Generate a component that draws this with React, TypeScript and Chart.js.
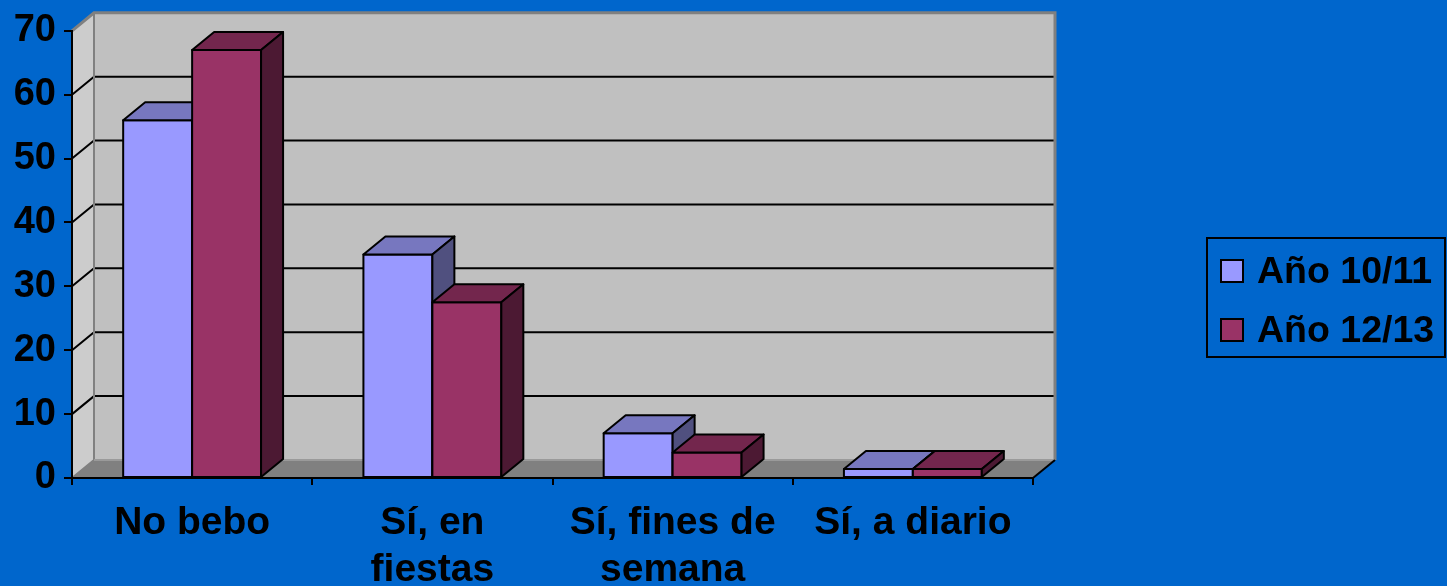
import React, { useEffect, useRef } from 'react';
import { Chart, registerables } from 'chart.js';

Chart.register(...registerables);

const categories: (string | string[])[] = ['No bebo', ['Sí, en', 'fiestas'], ['Sí, fines de', 'semana'], 'Sí, a diario'];
const seriesNames = ['Año 10/11', 'Año 12/13'];
const valuesA = [56, 35, 7, 1.4];
const valuesB = [67, 27.5, 4, 1.4];
const yMin = 0;
const yMax = 70;
const yStep = 10;

const frontColors = ['#9999FF', '#993366'];
const topColors = ['#7777BF', '#73264D'];
const sideColors = ['#50507F', '#4C1933'];

const BG = '#0066CC';
const DX = 22;
const DY = -18;
const FONT = '"Liberation Sans", Arial, sans-serif';

const threeD = {
  id: 'threeD',
  beforeDraw(chart: any) {
    const { ctx, chartArea, scales } = chart;
    const { left, right, top, bottom } = chartArea;
    ctx.save();
    ctx.fillStyle = BG;
    ctx.fillRect(0, 0, chart.width, chart.height);
    ctx.fillStyle = '#C0C0C0';
    ctx.fillRect(left + DX, top + DY, right - left, bottom - top);
    ctx.fillStyle = '#CCCCCC';
    ctx.beginPath();
    ctx.moveTo(left, bottom);
    ctx.lineTo(left, top);
    ctx.lineTo(left + DX, top + DY);
    ctx.lineTo(left + DX, bottom + DY);
    ctx.closePath();
    ctx.fill();
    ctx.fillStyle = '#808080';
    ctx.beginPath();
    ctx.moveTo(left, bottom);
    ctx.lineTo(right, bottom);
    ctx.lineTo(right + DX, bottom + DY);
    ctx.lineTo(left + DX, bottom + DY);
    ctx.closePath();
    ctx.fill();
    const y = scales.y;
    ctx.strokeStyle = '#000';
    ctx.lineWidth = 2;
    for (let v = yMin + yStep; v < yMax; v += yStep) {
      const py = y.getPixelForValue(v);
      ctx.beginPath();
      ctx.moveTo(left, py);
      ctx.lineTo(left + DX, py + DY);
      ctx.lineTo(right + DX, py + DY);
      ctx.stroke();
    }
    ctx.strokeStyle = '#808080';
    ctx.lineWidth = 3;
    ctx.beginPath();
    ctx.moveTo(left, top);
    ctx.lineTo(left + DX, top + DY);
    ctx.lineTo(right + DX, top + DY);
    ctx.lineTo(right + DX, bottom + DY);
    ctx.stroke();
    ctx.lineWidth = 2;
    ctx.beginPath();
    ctx.moveTo(left + DX, top + DY);
    ctx.lineTo(left + DX, bottom + DY);
    ctx.moveTo(left, bottom);
    ctx.lineTo(left + DX, bottom + DY);
    ctx.stroke();
    ctx.strokeStyle = '#9A9A9A';
    ctx.beginPath();
    ctx.moveTo(left + DX, bottom + DY);
    ctx.lineTo(right + DX, bottom + DY);
    ctx.stroke();
    ctx.strokeStyle = '#000';
    ctx.beginPath();
    ctx.moveTo(right, bottom);
    ctx.lineTo(right + DX, bottom + DY);
    ctx.stroke();
    ctx.restore();
  },
  afterDatasetsDraw(chart: any) {
    const { ctx } = chart;
    ctx.save();
    ctx.strokeStyle = '#000';
    ctx.lineWidth = 2;
    ctx.lineJoin = 'round';
    const n = chart.data.datasets.length;
    const nCat = chart.data.labels.length;
    for (let c = 0; c < nCat; c++) {
      for (let i = 0; i < n; i++) {
        const el = chart.getDatasetMeta(i).data[c];
        if (!el) continue;
        const l = el.x - el.width / 2;
        const r = el.x + el.width / 2;
        const t = el.y;
        const b = el.base;
        ctx.fillStyle = frontColors[i];
        ctx.fillRect(l, t, r - l, b - t);
        ctx.strokeRect(l, t, r - l, b - t);
        ctx.fillStyle = topColors[i];
        ctx.beginPath();
        ctx.moveTo(l, t);
        ctx.lineTo(l + DX, t + DY);
        ctx.lineTo(r + DX, t + DY);
        ctx.lineTo(r, t);
        ctx.closePath();
        ctx.fill();
        ctx.stroke();
        ctx.fillStyle = sideColors[i];
        ctx.beginPath();
        ctx.moveTo(r, t);
        ctx.lineTo(r + DX, t + DY);
        ctx.lineTo(r + DX, b + DY);
        ctx.lineTo(r, b);
        ctx.closePath();
        ctx.fill();
        ctx.stroke();
      }
    }
    ctx.restore();
  },
  afterDraw(chart: any) {
    const { ctx } = chart;
    ctx.save();
    ctx.strokeStyle = '#000';
    ctx.lineWidth = 2;
    ctx.strokeRect(1207, 238, 238, 119);
    ctx.font = `bold 37.5px ${FONT}`;
    ctx.textBaseline = 'alphabetic';
    ctx.textAlign = 'left';
    const rows = [283, 342];
    seriesNames.forEach((name, k) => {
      ctx.fillStyle = frontColors[k];
      ctx.fillRect(1221, rows[k] - 23, 22, 22);
      ctx.strokeRect(1221, rows[k] - 23, 22, 22);
      ctx.fillStyle = '#000';
      ctx.fillText(name, 1257, rows[k]);
    });
    ctx.restore();
  },
};

export default function App() {
  const ref = useRef<HTMLCanvasElement>(null);
  useEffect(() => {
    document.body.style.margin = '0';
    document.body.style.background = BG;
    const chart = new Chart(ref.current!, {
      type: 'bar',
      data: {
        labels: categories,
        datasets: [
          { label: seriesNames[0], data: valuesA, backgroundColor: frontColors[0], borderColor: '#000', borderWidth: 0 },
          { label: seriesNames[1], data: valuesB, backgroundColor: frontColors[1], borderColor: '#000', borderWidth: 0 },
        ],
      },
      options: {
        responsive: false,
        animation: false,
        devicePixelRatio: 1,
        layout: { padding: { left: 0, top: 28, right: 414, bottom: 0 } },
        datasets: { bar: { categoryPercentage: 0.574, barPercentage: 1 } },
        plugins: { legend: { display: false }, tooltip: { enabled: false } },
        scales: {
          x: {
            type: 'category',
            offset: true,
            grid: { offset: true, drawOnChartArea: false, drawTicks: true, tickLength: 7, color: '#000', lineWidth: 2 },
            border: { display: true, color: '#000', width: 2 },
            ticks: {
              color: '#000',
              font: { family: FONT, size: 39, weight: 'bold', lineHeight: 1.2 },
              padding: 15,
              maxRotation: 0,
              autoSkip: false,
            },
            afterFit: (s: any) => { s.height = 108; },
          },
          y: {
            min: yMin,
            max: yMax,
            grid: { drawOnChartArea: false, drawTicks: true, tickLength: 8, color: '#000', lineWidth: 2 },
            border: { display: true, color: '#000', width: 2 },
            ticks: {
              stepSize: yStep,
              color: '#000',
              font: { family: FONT, size: 38, weight: 'bold' },
              padding: 8,
            },
            afterFit: (s: any) => { s.width = 72; },
          },
        },
      },
      plugins: [threeD],
    } as any);
    return () => chart.destroy();
  }, []);
  return <canvas ref={ref} width={1447} height={586} style={{ display: 'block', width: 1447, height: 586 }} />;
}
